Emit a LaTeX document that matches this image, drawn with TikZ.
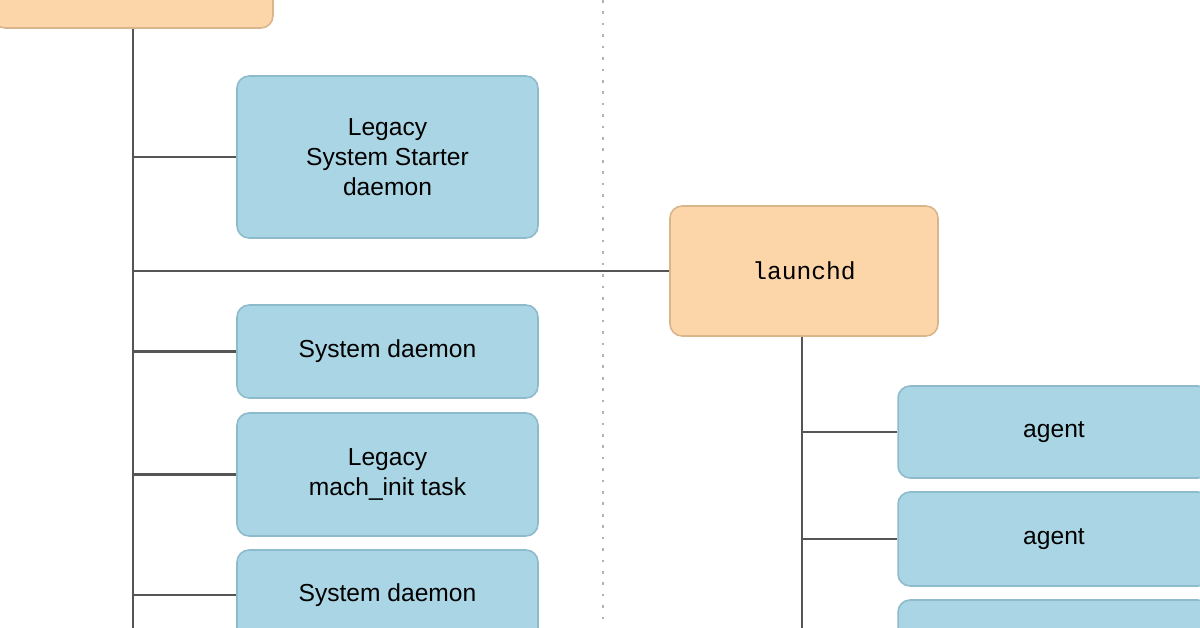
\documentclass[tikz,border=0pt]{standalone}
\usepackage{fontspec}
\setmainfont{Liberation Sans}
\newfontfamily\monofont{Liberation Mono}
\usepackage{tikz}
\definecolor{procfill}{HTML}{FCD6A8}
\definecolor{procdraw}{HTML}{D9B58C}
\definecolor{jobfill}{HTML}{AAD5E4}
\definecolor{jobdraw}{HTML}{8DBBCB}
\definecolor{wiregray}{HTML}{555555}
\begin{document}
\begin{tikzpicture}[x=0.02cm, y=-0.02cm]
    % --- DEFINE STYLES ---
    % Style for launchd processes
    \tikzstyle{proc} = [draw=procdraw, fill=procfill, rounded corners=0.24cm, line width=0.9pt, align=center, font=\fontsize{14}{17}\selectfont\monofont]
    % Style for jobs
    \tikzstyle{job} = [draw=jobdraw, fill=jobfill, rounded corners=0.24cm, line width=0.9pt, align=center, minimum width=6.02cm, font=\fontsize{14}{17}\selectfont]
    % Style for connectors
    \tikzstyle{wire} = [draw=wiregray, line width=1.6pt]

    \useasboundingbox (0,0) rectangle (1200,628);
    \clip (0,0) rectangle (1200,628);

    % Separator
    \draw[gray!60, line width=1.5pt, dash pattern=on 1.5pt off 5pt] (603,0) -- (603,628);

    % --- NODES ---
    \node[proc, minimum width=5.6cm, minimum height=1.36cm] (root) at (133,-6) {};
    \node[job, minimum height=3.24cm] (legss) at (387.5,157) {Legacy\\System Starter\\daemon};
    \node[job, minimum height=1.86cm] (sysd1) at (387.5,351.5) {System daemon};
    \node[job, minimum height=2.46cm] (legmi) at (387.5,474.5) {Legacy\\mach\_init task};
    \node[job, minimum height=1.8cm] (sysd2) at (387.5,595) {System daemon};
    \node[proc, minimum width=5.36cm, minimum height=2.6cm] (launchd) at (804,271) {launchd};
    \node[job, minimum width=6.24cm, minimum height=1.84cm] (agent1) at (1054,432) {agent};
    \node[job, minimum width=6.24cm, minimum height=1.88cm] (agent2) at (1054,539) {agent};
    \node[job, minimum width=6.24cm, minimum height=2cm] (agent3) at (1054,650) {};

    \coordinate (rootend) at (133,640);
    \coordinate (launchdend) at (802,640);

    % --- CONNECTORS ---
    \draw[wire] (root.south) -- (rootend);
    \foreach \j in {legss,sysd1,legmi,sysd2}
        \draw[wire] (\j.west) -- (\j.west -| root.south);
    \draw[wire] (launchd.west) -- (launchd.west -| root.south);
    \draw[wire] (launchd.south -| launchdend) -- (launchdend);
    \foreach \j in {agent1,agent2,agent3}
        \draw[wire] (\j.west) -- (\j.west -| launchdend);
\end{tikzpicture}
\end{document}
